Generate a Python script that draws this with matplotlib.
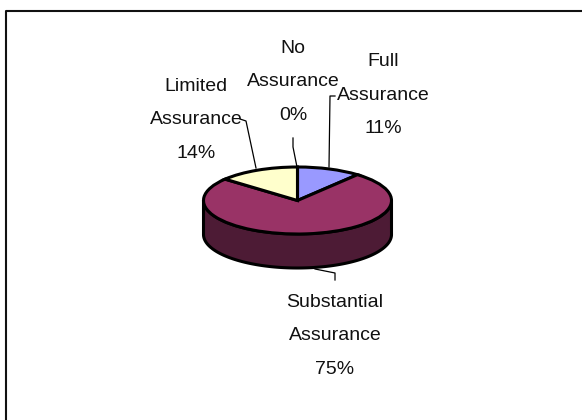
import numpy as np
import matplotlib
matplotlib.use('Agg')
import matplotlib.pyplot as plt

categories = ['Full\nAssurance', 'Substantial\nAssurance', 'Limited\nAssurance', 'No\nAssurance']
shares = [11, 75, 14, 0]
face_colors = ['#9999FF', '#993366', '#FFFFCC', '#FFFFFF']
side_color = '#4D1B35'

W, H = 582, 420
plt.rcParams['font.family'] = ['Liberation Sans', 'DejaVu Sans']

fig = plt.figure(figsize=(W / 100, H / 100), dpi=100)
fig.patch.set_facecolor('white')

# work in pixels for the frame, labels and leader lines
bg = fig.add_axes([0, 0, 1, 1])
bg.set_xlim(0, W)
bg.set_ylim(H, 0)
bg.axis('off')
bg.plot([6, 6, 582], [420, 10.5, 10.5], color='#111111', lw=1.5)

# pie disc: unit circle squashed to an ellipse, side wall dropped below it
cx, cy, rx, ry, depth = 297.5, 200.5, 94, 33.5, 34
ax = fig.add_axes([(cx - rx) / W, 1 - (cy + ry) / H, 2 * rx / W, 2 * ry / H])
ax.set_zorder(3)
wedges, _ = ax.pie(shares, colors=face_colors, startangle=90, counterclock=False, radius=1,
                   wedgeprops={'edgecolor': 'black', 'linewidth': 2.2})
ax.set_aspect('auto')
ax.set_xlim(-1, 1)
ax.set_ylim(-1, 1)
for w in wedges:
    w.set_clip_on(False)

t = np.linspace(np.pi, 2 * np.pi, 200)
lower_x = cx + rx * np.cos(t)
lower_y = cy - ry * np.sin(t)
side_x = np.r_[lower_x, lower_x[::-1]]
side_y = np.r_[lower_y, lower_y[::-1] + depth]
bg.fill(side_x, side_y, facecolor=side_color, edgecolor='black', lw=2.2, zorder=2)

labels = [
    (383, 95, '%s\n%d%%' % (categories[0], shares[0])),
    (335, 336, '%s\n%d%%' % (categories[1], shares[1])),
    (196, 120, '%s\n%d%%' % (categories[2], shares[2])),
    (293, 82, '%s\n%d%%' % (categories[3], shares[3])),
]
for x, y, s in labels:
    bg.text(x, y, s, ha='center', va='center', fontsize=14, linespacing=2.3, color='#111111')

# leader lines from labels to the wedges
leaders = [
    ([335, 330, 329], [96, 96, 167]),
    ([315, 335, 335], [269, 273, 280]),
    ([240, 246, 256], [119, 121, 168]),
    ([293, 293, 297], [138, 147, 167]),
]
for xs, ys in leaders:
    bg.plot(xs, ys, color='black', lw=0.9, zorder=1)

fig.savefig('out.png', dpi=100)
